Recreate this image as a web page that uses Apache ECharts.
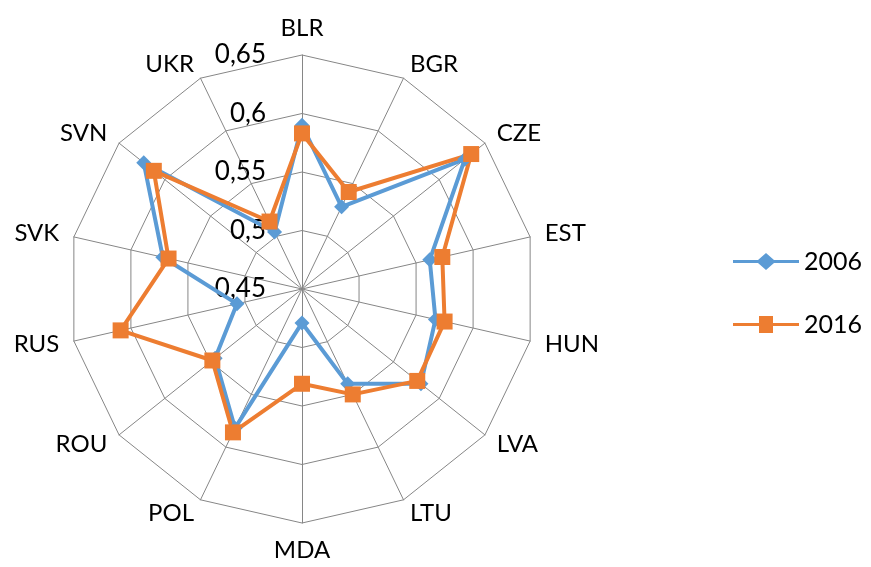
<!DOCTYPE html>
<html>
<head>
<meta charset="utf-8">
<script src="https://cdn.jsdelivr.net/npm/echarts@6/dist/echarts.min.js"></script>
<style>
  html, body { margin: 0; padding: 0; background: #fff; }
  #chart { width: 871px; height: 567px; }
</style>
</head>
<body>
<div id="chart"></div>
<script>
// country axes, clockwise from top
var countries = ['BLR', 'BGR', 'CZE', 'EST', 'HUN', 'LVA', 'LTU', 'MDA', 'POL', 'ROU', 'RUS', 'SVK', 'SVN', 'UKR'];
// values
var values2006 = [0.590, 0.528, 0.628, 0.562, 0.567, 0.580, 0.540, 0.479, 0.582, 0.545, 0.507, 0.572, 0.623, 0.504];
var values2016 = [0.583, 0.542, 0.635, 0.573, 0.575, 0.576, 0.550, 0.531, 0.586, 0.548, 0.609, 0.567, 0.612, 0.514];
var axisMin = 0.45;
var axisMax = 0.65;

var chart = echarts.init(document.getElementById('chart'));

// echarts radar runs counter-clockwise, so keep the first axis on top and reverse the rest
var order = [0];
for (var k = countries.length - 1; k > 0; k--) order.push(k);

var indicators = order.map(function (i, pos) {
  var ind = { name: countries[i], min: axisMin, max: axisMax };
  if (pos === 0) {
    // only the top axis carries the value labels
    ind.axisLabel = { show: true };
  }
  return ind;
});
function reorder(arr) { return order.map(function (i) { return arr[i]; }); }

// legend icons: line with marker in the middle
var iconDiamond = 'path://M0,7 L25,7 L33,0 L41,7 L66,7 L66,10 L41,10 L33,17 L25,10 L0,10 Z';
var iconSquare = 'path://M0,7 L26,7 L26,0 L40,0 L40,7 L66,7 L66,10 L40,10 L40,17 L26,17 L26,10 L0,10 Z';

var option = {
  animation: false,
  legend: {
    orient: 'vertical',
    left: 728,
    top: 244,
    itemWidth: 66,
    itemHeight: 17,
    itemGap: 38,
    textStyle: { fontFamily: 'Lato', fontSize: 25, color: '#000' },
    data: [
      { name: '2006', icon: iconDiamond },
      { name: '2016', icon: iconSquare }
    ]
  },
  radar: {
    center: [302, 289],
    radius: 234,
    startAngle: 90,
    shape: 'polygon',
    splitNumber: 4,
    axisName: { color: '#000', fontFamily: 'Lato', fontSize: 24 },
    nameGap: 15,
    splitArea: { show: false },
    splitLine: { lineStyle: { color: '#868686', width: 1 } },
    axisLine: { lineStyle: { color: '#868686', width: 1 } },
    axisLabel: {
      show: false,
      color: '#000',
      fontFamily: 'Lato',
      fontSize: 26,
      margin: 36,
      formatter: function (v) { return String(+v.toFixed(2)).replace('.', ','); }
    },
    indicator: indicators
  },
  series: [{
    type: 'radar',
    data: [
      {
        name: '2006', value: reorder(values2006),
        symbol: 'diamond', symbolSize: 15,
        lineStyle: { color: '#5b9bd5', width: 4 },
        itemStyle: { color: '#5b9bd5' }
      },
      {
        name: '2016', value: reorder(values2016),
        symbol: 'rect', symbolSize: 16,
        lineStyle: { color: '#ed7d31', width: 4 },
        itemStyle: { color: '#ed7d31' }
      }
    ]
  }]
};

chart.setOption(option);
</script>
</body>
</html>
